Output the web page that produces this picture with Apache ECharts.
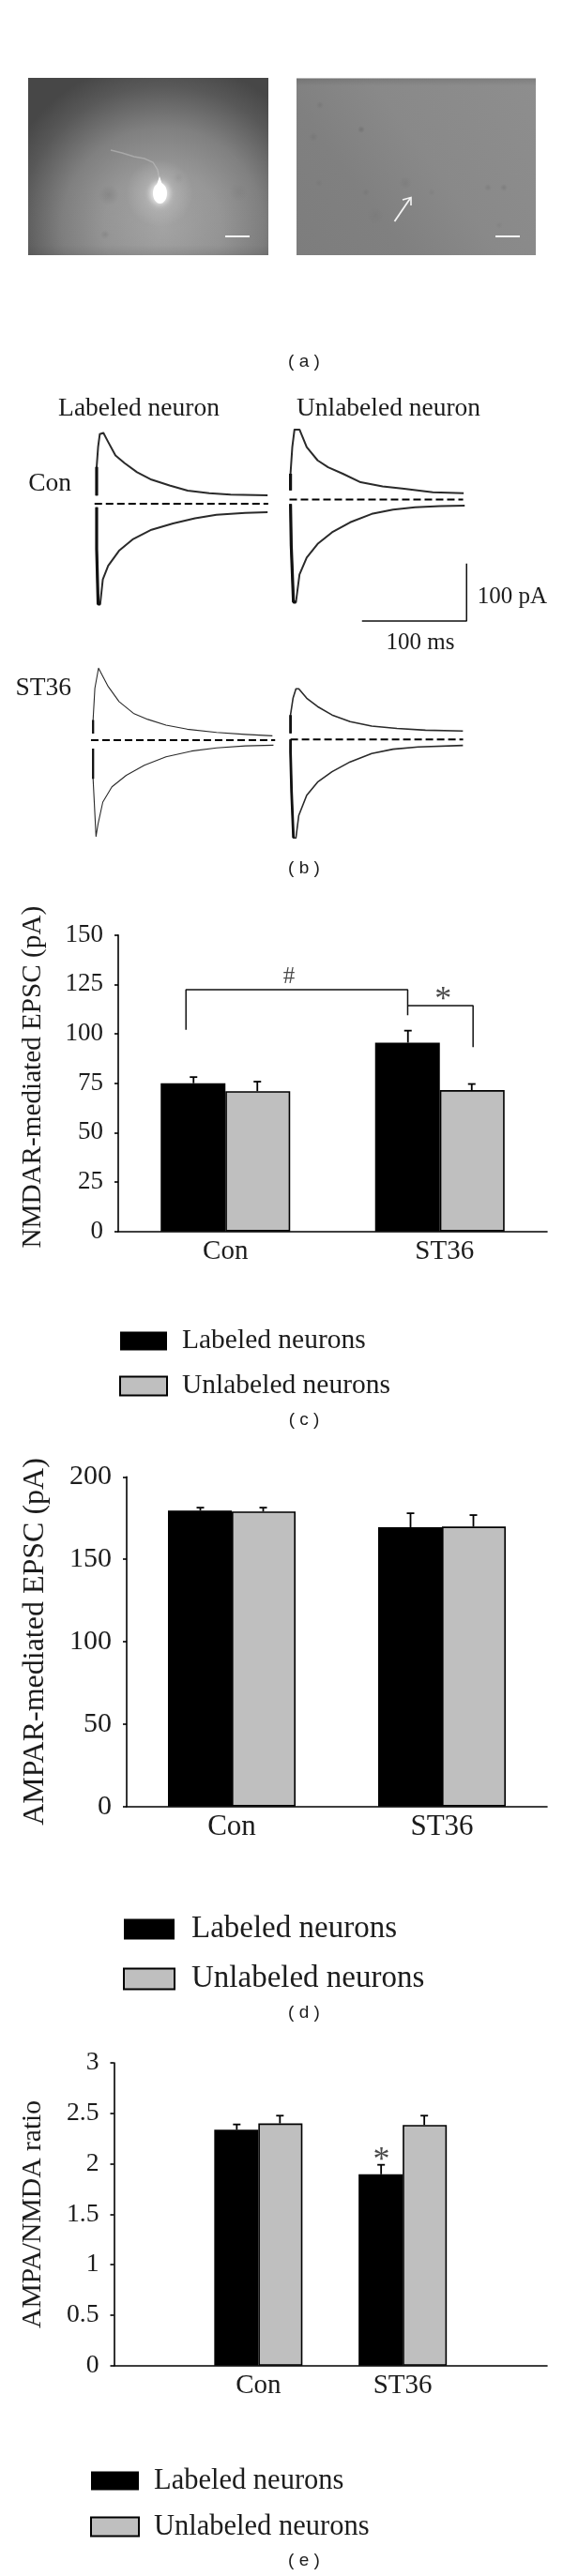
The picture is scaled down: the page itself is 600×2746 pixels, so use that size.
<!DOCTYPE html>
<html>
<head>
<meta charset="utf-8">
<style>html,body{margin:0;padding:0;background:#fff}#c{width:600px;height:2746px}</style>
<script src="https://cdn.jsdelivr.net/npm/echarts@6/dist/echarts.min.js"></script>
</head>
<body>
<div id="c"></div>
<script>
// ---------- data ----------
const names = ['Labeled neurons', 'Unlabeled neurons'];
const catsC = ['Con', 'ST36'];
const catsD = ['Con', 'ST36'];
const catsE = ['', 'Con', 'ST36', ''];

const nmdaLabeled = [75, 95.5];
const nmdaUnlabeled = [71, 71.5];
const nmdaLabeledTop = [78.1, 101.6];
const nmdaUnlabeledTop = [75.8, 74.6];
const bracketHash = [[0.316, 102], [0.316, 122.3], [1.35, 122.3], [1.35, 109.4]];
const bracketStar = [[1.35, 114.3], [1.655, 114.3], [1.655, 93.3]];

const ampaLabeled = [179.5, 169.4];
const ampaUnlabeled = [179, 169.8];
const ampaLabeledTop = [181.3, 177.9];
const ampaUnlabeledTop = [181.3, 176.8];

const ratioLabeled = [null, 2.337, 1.896, null];
const ratioUnlabeled = [null, 2.40, 2.385, null];
const ratioLabeledTop = [null, 2.39, 1.99, null];
const ratioUnlabeledTop = [null, 2.477, 2.477, null];

// EPSC traces: [ms, pA]
const conLabeledUp = [[0,14.5],[0,64],[1.4,99],[3,121],[6.5,123],[11,107.5],[18,84],[26.5,71],[38.6,55],[52.4,42],[69.7,32],[87,23],[107.6,18.6],[128,16],[163.4,15]];
const conLabeledDown = [[0,-6],[0,-78.5],[1.4,-174],[3.4,-174],[5.9,-131],[11,-107.5],[21.4,-81.4],[35,-61],[52.4,-45],[73,-34],[94,-25],[114.5,-19],[142,-15.7],[163.4,-14.5]];
const conUnlabeledUp = [[0,15.7],[0,44.8],[1.7,91],[3.8,121.5],[8.6,121.5],[15.5,91],[25.9,68],[36,56],[50,44.8],[67,30],[88,22.7],[108.6,18.6],[136,12.8],[165.5,11]];
const conUnlabeledDown = [[0,-7.6],[0.7,-80],[2.8,-178],[5.2,-178],[8.6,-130],[15.5,-100.6],[25.9,-77],[39.7,-57],[57,-39.5],[77.6,-25],[98,-17.4],[119,-13.4],[143,-11.6],[166.5,-10.5]];
const stLabeledUp = [[0,11.6],[0,35],[1.7,90],[5.2,125],[6.9,125],[14.5,93],[24.8,67],[38.6,46.5],[52.4,36],[69.7,26],[90,19],[118,13.4],[145.5,10],[171.4,7.6]];
const stLabeledDown = [[0,-14.5],[0,-67],[2.8,-167],[4.8,-145],[9.3,-107.5],[18,-81],[31.7,-61],[49,-43.6],[69.7,-29],[94,-19],[118,-13.4],[145.5,-10],[172.4,-8.7]];
const stUnlabeledUp = [[0,10.5],[0,42.4],[2.4,71.5],[5.2,87.8],[7.9,87.8],[15.5,71.5],[25.9,57],[39.7,42.4],[57,30.8],[77.6,23],[101.7,19],[129,16],[164.8,14.5]];
const stUnlabeledDown = [[0,0],[0,-21.5],[1,-91],[2.8,-171],[5.2,-171],[7.9,-132],[15.5,-97],[25.9,-74],[39.7,-56],[57,-39],[77.6,-24.4],[98,-17],[122,-13],[164.8,-10.5]];
const baseline = [[[-2,0],[164,0]], [[-1,0],[165,0]], [[-2,0],[174,0]], [[0,0],[165,0]]];
const scaleBar = [[68.3,-211],[168.3,-211],[168.3,-111]];

// ---------- helpers ----------
const SERIF = '"Liberation Serif", serif';
const SANS = '"Liberation Sans", sans-serif';
const INK = '#1c1c1c';
const chart = echarts.init(document.getElementById('c'));

const pxMs = 1.115, pxPa = 0.614;
const traceGrids = [[103, 537.1], [309.6, 532.5], [99.2, 789], [309.6, 788.2]].map(([l, b]) => ({
  left: l - 5 * pxMs, top: b - 150 * pxPa, width: 185 * pxMs, height: 370 * pxPa
}));
const grids = [
  ...traceGrids,
  { left: 126, top: 996.7, width: 457, height: 316 },
  { left: 135, top: 1574.3, width: 448, height: 351.4 },
  { left: 121.5, top: 2199, width: 461.5, height: 322.8 }
];
const hiddenX = i => ({ type: 'value', gridIndex: i, min: -5, max: 180, show: false });
const hiddenY = i => ({ type: 'value', gridIndex: i, min: -220, max: 150, show: false });
const catAxis = (i, data, size, extra) => Object.assign({
  type: 'category', gridIndex: i, data,
  axisLine: { lineStyle: { color: '#000', width: 1.6 } },
  axisTick: { show: false },
  axisLabel: { color: INK, fontFamily: SERIF, fontSize: size, margin: 7, interval: 0 }
}, extra || {});
const valAxis = (i, max, interval, size, name, gap, nameSize, pad) => ({
  type: 'value', gridIndex: i, min: 0, max, interval,
  name, nameLocation: 'middle', nameGap: gap,
  nameTextStyle: { color: INK, fontFamily: SERIF, fontSize: nameSize, padding: pad || 0 },
  axisLine: { show: true, lineStyle: { color: '#000', width: 1.6 } },
  axisTick: { show: true, length: 4, lineStyle: { color: '#000', width: 1.6 } },
  axisLabel: { color: INK, fontFamily: SERIF, fontSize: size, margin: 16 },
  splitLine: { show: false }
});

const series = [];
function trace(i, data, width, thickCount, color) {
  series.push({ type: 'line', xAxisIndex: i, yAxisIndex: i, data, showSymbol: false, silent: true,
    lineStyle: { color: color || '#2a2a2a', width, join: 'round' }, animation: false });
  if (thickCount) series.push({ type: 'line', xAxisIndex: i, yAxisIndex: i, data: data.slice(0, thickCount), showSymbol: false, silent: true,
    lineStyle: { color: '#111', width: width + 1.2 }, animation: false });
}
[[conLabeledUp, conLabeledDown, 2],[conUnlabeledUp, conUnlabeledDown, 2],[stLabeledUp, stLabeledDown, 1.1],[stUnlabeledUp, stUnlabeledDown, 1.6]].forEach((t, i) => {
  trace(i, t[0], t[2], 2);
  trace(i, t[1], t[2], i === 2 ? 2 : 4);
  series.push({ type: 'line', xAxisIndex: i, yAxisIndex: i, data: baseline[i], showSymbol: false, silent: true,
    lineStyle: { color: '#000', width: 2, type: [8, 4] }, animation: false });
});
series.push({ type: 'line', xAxisIndex: 1, yAxisIndex: 1, data: scaleBar, showSymbol: false, silent: true,
  lineStyle: { color: '#111', width: 1.5 }, animation: false });

function bars(xi, yi, labeled, unlabeled, labeledTop, unlabeledTop, width) {
  const mk = (idx, vals) => ({
    type: 'bar', name: names[idx], xAxisIndex: xi, yAxisIndex: yi, data: vals, barWidth: width, barGap: 0,
    itemStyle: { color: idx ? '#bfbfbf' : '#000', borderColor: '#000', borderWidth: idx ? 1.6 : 0 }, animation: false, silent: true
  });
  const err = (tops, vals, sign) => ({
    type: 'custom', xAxisIndex: xi, yAxisIndex: yi, silent: true, animation: false, z: 1,
    data: tops.map((t, k) => [k, vals[k], t]).filter(d => d[1] != null),
    encode: { x: 0, y: [1, 2] },
    renderItem(params, api) {
      const a = api.coord([api.value(0), api.value(1)]);
      const b = api.coord([api.value(0), api.value(2)]);
      const x = a[0] + sign * width / 2 - sign * 0.5;
      const st = { stroke: '#000', lineWidth: 1.8, fill: null };
      return { type: 'group', children: [
        { type: 'line', shape: { x1: x, y1: a[1], x2: x, y2: b[1] }, style: st },
        { type: 'line', shape: { x1: x - 4, y1: b[1], x2: x + 4, y2: b[1] }, style: st }
      ] };
    }
  });
  series.push(mk(0, labeled), mk(1, unlabeled), err(labeledTop, labeled, -1), err(unlabeledTop, unlabeled, 1));
}
bars(4, 4, nmdaLabeled, nmdaUnlabeled, nmdaLabeledTop, nmdaUnlabeledTop, 69);
bars(6, 5, ampaLabeled, ampaUnlabeled, ampaLabeledTop, ampaUnlabeledTop, 68);
bars(7, 6, ratioLabeled, ratioUnlabeled, ratioLabeledTop, ratioUnlabeledTop, 47);

[bracketHash, bracketStar].forEach(d => series.push({ type: 'line', xAxisIndex: 5, yAxisIndex: 4, data: d, showSymbol: false, silent: true,
  lineStyle: { color: '#111', width: 1.5 }, animation: false }));
function mark(xi, yi, pos, text, size) {
  series.push({ type: 'scatter', xAxisIndex: xi, yAxisIndex: yi, data: [pos], symbolSize: 0, silent: true, animation: false,
    label: { show: true, position: 'inside', formatter: text, color: INK, fontFamily: SERIF, fontSize: size } });
}
mark(5, 4, [0.796, 128.7], '#', 25);
mark(5, 4, [1.515, 117], '*', 36);
mark(8, 6, [1.853, 2.03], '*', 36);

const legend = (left, top, w, h, gap, size, pad) => ({
  left, top, orient: 'vertical', itemWidth: w, itemHeight: h, itemGap: gap, padding: 0,
  data: names, selectedMode: false, icon: 'rect',
  textStyle: { color: INK, fontFamily: SERIF, fontSize: size, padding: [0, 0, 0, pad] }
});

// ---------- photographs and free text ----------
const txt = (x, y, text, size, align, fam) => ({ type: 'text', x, y, silent: true,
  style: { text, fontFamily: fam || SERIF, fontSize: size, fill: INK, align: align || 'center', verticalAlign: 'middle' } });
const blob = (cx, cy, rx, ry, a) => ({ type: 'ellipse', silent: true, shape: { cx, cy, rx, ry },
  style: { fill: { type: 'radial', x: .5, y: .5, r: .5, colorStops: [{ offset: 0, color: `rgba(50,50,50,${a})` }, { offset: 1, color: 'rgba(50,50,50,0)' }] } } });
const graphic = [
  { type: 'rect', silent: true, shape: { x: 30, y: 83, width: 256, height: 189 }, style: { fill: { type: 'radial', x: .56, y: .85, r: .95,
    colorStops: [{ offset: 0, color: '#a6a6a6' }, { offset: .35, color: '#979797' }, { offset: .6, color: '#808080' }, { offset: .85, color: '#585858' }, { offset: 1, color: '#474747' }] } } },
  { type: 'rect', silent: true, shape: { x: 30, y: 200, width: 256, height: 72 }, style: { fill: { type: 'linear', x: 0, y: 0, x2: 0, y2: 1,
    colorStops: [{ offset: 0, color: 'rgba(60,60,60,0)' }, { offset: .85, color: 'rgba(60,60,60,.04)' }, { offset: 1, color: 'rgba(60,60,60,.18)' }] } } },
  blob(116, 208, 11, 15, .13), blob(112, 250, 5, 13, .12), blob(254, 205, 16, 10, .06), blob(190, 190, 7, 6, .08),
  { type: 'circle', silent: true, shape: { cx: 170, cy: 206, r: 36 }, style: { fill: { type: 'radial', x: .5, y: .5, r: .5,
    colorStops: [{ offset: 0, color: 'rgba(255,255,255,.6)' }, { offset: .4, color: 'rgba(255,255,255,.18)' }, { offset: 1, color: 'rgba(255,255,255,0)' }] } } },
  { type: 'polyline', silent: true, shape: { points: [[170, 192], [168, 181], [163, 173], [154, 169], [143, 167], [130, 163], [118, 160]] },
    style: { stroke: 'rgba(200,200,200,.5)', lineWidth: 1.4, fill: null } },
  { type: 'ellipse', silent: true, shape: { cx: 170.5, cy: 206, rx: 7.5, ry: 11 }, style: { fill: '#fff', shadowBlur: 8, shadowColor: '#fff' } },
  { type: 'polygon', silent: true, shape: { points: [[167, 197], [170, 188], [173, 197]] }, style: { fill: '#fff' } },
  { type: 'rect', silent: true, shape: { x: 240, y: 251, width: 26, height: 2 }, style: { fill: '#f4f4f4' } },

  { type: 'rect', silent: true, shape: { x: 316, y: 83.5, width: 255, height: 188.5 }, style: { fill: { type: 'linear', x: 1, y: 0, x2: 0, y2: 1,
    colorStops: [{ offset: 0, color: '#8e8e8e' }, { offset: .45, color: '#898989' }, { offset: .7, color: '#808080' }, { offset: 1, color: '#7d7d7d' }] } } },
  { type: 'rect', silent: true, shape: { x: 316, y: 83.5, width: 255, height: 8 }, style: { fill: { type: 'linear', x: 0, y: 0, x2: 0, y2: 1,
    colorStops: [{ offset: 0, color: 'rgba(60,60,60,.2)' }, { offset: 1, color: 'rgba(60,60,60,0)' }] } } },
  blob(341, 112, 4, 6, .12), blob(385, 138, 5, 4, .2), blob(334, 146, 5, 11, .1), blob(340, 195, 8, 4, .07), blob(432, 195, 8, 7, .08),
  blob(520, 200, 4, 5, .12), blob(537, 200, 4, 5, .15), blob(400, 230, 9, 9, .05), blob(460, 205, 7, 4, .07), blob(390, 205, 5, 4, .09), blob(532, 240, 4, 7, .07),
  { type: 'rect', silent: true, shape: { x: 528, y: 251, width: 26, height: 2 }, style: { fill: '#f4f4f4' } },
  { type: 'line', silent: true, shape: { x1: 420.5, y1: 236, x2: 437.5, y2: 211 }, style: { stroke: '#f4f4f4', lineWidth: 1.8 } },
  { type: 'polyline', silent: true, shape: { points: [[429, 213], [438, 210.5], [438, 219]] }, style: { stroke: '#f4f4f4', lineWidth: 1.6, fill: null } },

  txt(148, 436, 'Labeled neuron', 27.5), txt(414, 436, 'Unlabeled neuron', 27.5),
  txt(76, 516, 'Con', 27.5, 'right'), txt(76, 734, 'ST36', 27.5, 'right'),
  txt(546, 636, '100 pA', 25), txt(448, 685, '100 ms', 25),
  txt(324, 386, '( a )', 19, 'center', SANS),
  txt(324, 926, '( b )', 19, 'center', SANS),
  txt(324, 1514, '( c )', 19, 'center', SANS),
  txt(324, 2146, '( d )', 19, 'center', SANS),
  txt(324, 2730, '( e )', 19, 'center', SANS)
];

chart.setOption({
  backgroundColor: '#fff',
  animation: false,
  grid: grids,
  xAxis: [0, 1, 2, 3].map(hiddenX).concat([
    catAxis(4, [catsC[0], { value: catsC[1], textStyle: { padding: [0, 0, 0, 10] } }], 29),
    { type: 'value', gridIndex: 4, min: 0, max: 2, show: false },
    catAxis(5, catsD, 31),
    catAxis(6, catsE, 29, { boundaryGap: false }),
    { type: 'value', gridIndex: 6, min: 0, max: 3, show: false }
  ]),
  yAxis: [0, 1, 2, 3].map(hiddenY).concat([
    valAxis(4, 150, 25, 27, 'NMDAR-mediated EPSC (pA)', 76, 29.2, [0, 0, 0, 13]),
    valAxis(5, 200, 50, 30, 'AMPAR-mediated EPSC (pA)', 81, 32),
    valAxis(6, 3, 0.5, 27.7, 'AMPA/NMDA ratio', 71, 29.6)
  ]),
  legend: [
    legend(127, 1414.6, 50, 20, 18, 29.5, 11),
    legend(131, 2040, 54, 22, 20, 33, 13),
    legend(96, 2629, 51, 20, 18, 30.5, 11)
  ],
  graphic,
  series
});
</script>
</body>
</html>
